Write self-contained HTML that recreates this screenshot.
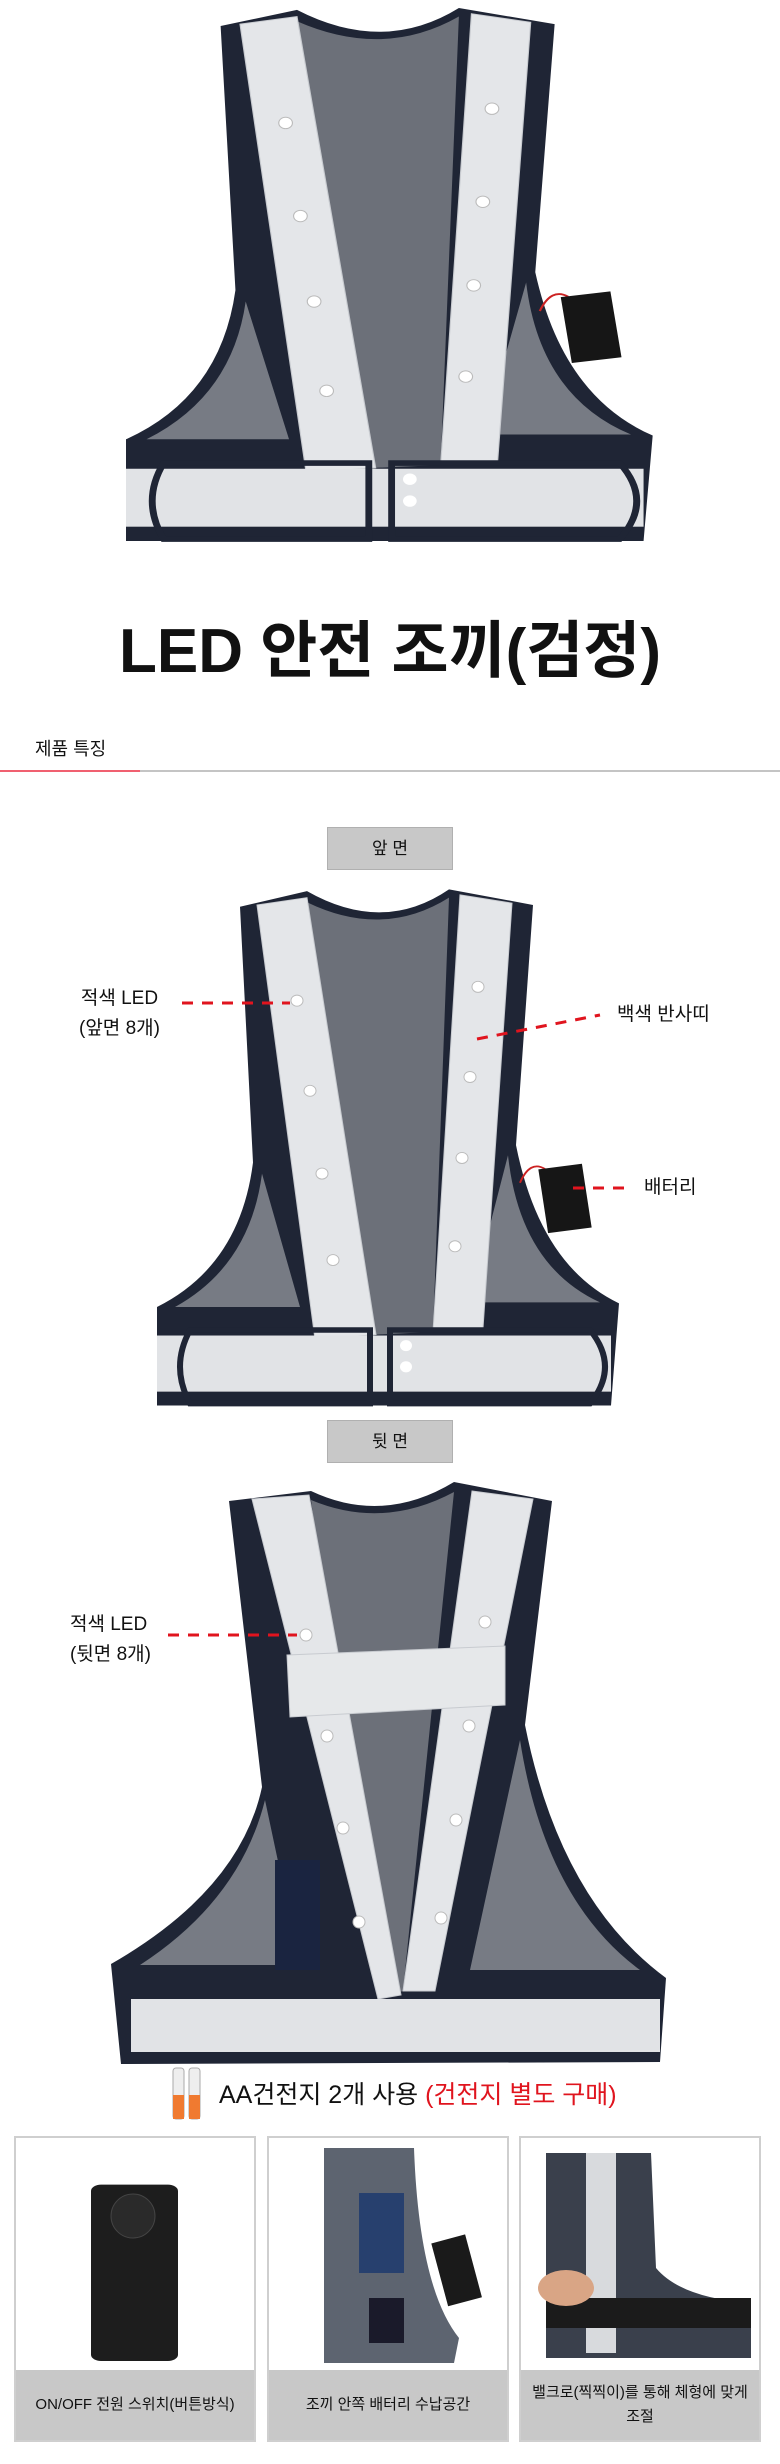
<!DOCTYPE html>
<html><head><meta charset="utf-8"><style>
body{margin:0;background:#fff;}
.wrap{position:relative;width:780px;height:2464px;overflow:hidden;font-family:"Liberation Sans","Noto Sans CJK KR",sans-serif;color:#111;}
.abs{position:absolute;}
.btn{position:absolute;left:327px;width:124px;height:41px;background:#c8c8c8;border:1px solid #b0b0b0;font-size:17px;line-height:41px;text-align:center;}
.lbl{position:absolute;font-size:19px;line-height:30px;}
.panel{position:absolute;top:2136px;width:242px;height:306px;border:2px solid #cfcfcf;box-sizing:border-box;background:#fff;}
.cap{position:absolute;left:0;right:0;bottom:0;height:70px;background:#c8c8c8;display:flex;align-items:center;justify-content:center;text-align:center;font-size:15px;line-height:24px;}
</style></head><body><div class="wrap">
<svg class="abs" style="left:0;top:0" width="780" height="2464">
<defs>
<g id="fv">
<path d="M240,910 L307,893 Q383,940 449,891 L533,908 L516,1169 Q540,1300 619,1341 L611,1452 L157,1452 L157,1345 Q240,1300 253,1188 Z" fill="#1f2535"/>
<path d="M307,905 Q383,945 449,900 L433,1372 L376,1375 Z" fill="#6c7079"/>
<path d="M262,1200 Q250,1300 175,1345 L300,1345 Z" fill="#777b84"/>
<path d="M508,1180 Q520,1300 600,1340 L470,1340 Z" fill="#777b84"/>
<path d="M257,908 L307,900 L376,1375 L315,1380 Z" fill="#e4e6e9" stroke="#c8cbd0"/>
<path d="M460,897 L512,906 L483,1368 L433,1372 Z" fill="#e4e6e9" stroke="#c8cbd0"/>
<rect x="157" y="1376" width="454" height="61" fill="#e1e3e6"/>
<path d="M190,1370 Q170,1410 190,1450 L370,1450 L370,1370 Z" fill="none" stroke="#1f2535" stroke-width="6"/>
<path d="M390,1370 L590,1370 Q620,1410 590,1450 L390,1450 Z" fill="none" stroke="#1f2535" stroke-width="6"/>
<circle cx="297" cy="1012" r="6" fill="#fff" stroke="#bbb"/><circle cx="310" cy="1110" r="6" fill="#fff" stroke="#bbb"/>
<circle cx="322" cy="1200" r="6" fill="#fff" stroke="#bbb"/><circle cx="333" cy="1294" r="6" fill="#fff" stroke="#bbb"/>
<circle cx="478" cy="997" r="6" fill="#fff" stroke="#bbb"/><circle cx="470" cy="1095" r="6" fill="#fff" stroke="#bbb"/>
<circle cx="462" cy="1183" r="6" fill="#fff" stroke="#bbb"/><circle cx="455" cy="1279" r="6" fill="#fff" stroke="#bbb"/>
<circle cx="406" cy="1387" r="6" fill="#fff"/><circle cx="406" cy="1410" r="6" fill="#fff"/>
<path d="M520,1210 Q530,1185 545,1195" stroke="#c22" fill="none" stroke-width="2"/>
<rect x="543" y="1192" width="44" height="70" fill="#161616" transform="rotate(-8 565 1227)"/>
</g>
</defs>
<use href="#fv" transform="matrix(1.14,0,0,0.95,-52.98,-838.45)"/>
<use href="#fv" transform="translate(0,870) scale(1,0.92) translate(0,-870)"/>
<!-- back vest -->
<path d="M229,1501 L311,1491 Q383,1525 454,1482 L552,1501 L525,1725 Q560,1900 666,1978 L660,2062 L121,2064 L111,1964 Q240,1890 262,1787 Z" fill="#1f2535"/>
<path d="M311,1500 Q383,1530 454,1492 L403,1991 L378,1999 Z" fill="#6c7079"/>
<path d="M265,1800 Q240,1900 140,1965 L300,1965 Z" fill="#777b84"/>
<path d="M520,1740 Q545,1900 640,1970 L470,1970 Z" fill="#777b84"/>
<rect x="275" y="1860" width="45" height="110" fill="#1a2440"/>
<path d="M252,1499 L309,1495 L401,1995 L378,1999 Z" fill="#e4e6e9" stroke="#c8cbd0"/>
<path d="M472,1491 L533,1499 L435,1991 L403,1991 Z" fill="#e4e6e9" stroke="#c8cbd0"/>
<path d="M287,1655 L505,1646 L505,1705 L290,1717 Z" fill="#e6e8ea" stroke="#c8cbd0"/>
<rect x="131" y="1999" width="529" height="53" fill="#e1e3e6"/>
<g fill="#fff" stroke="#bbb"><circle cx="306" cy="1635" r="6"/><circle cx="327" cy="1736" r="6"/><circle cx="343" cy="1828" r="6"/><circle cx="359" cy="1922" r="6"/>
<circle cx="485" cy="1622" r="6"/><circle cx="469" cy="1726" r="6"/><circle cx="456" cy="1820" r="6"/><circle cx="441" cy="1918" r="6"/></g>
<!-- dashes -->
<g stroke="#e0141e" stroke-width="3" stroke-dasharray="11 9" fill="none">
<line x1="182" y1="1003" x2="290" y2="1003"/>
<line x1="477" y1="1039" x2="600" y2="1015"/>
<line x1="573" y1="1188" x2="631" y2="1188"/>
<line x1="168" y1="1635" x2="297" y2="1635"/>
</g>
<line x1="0" y1="771" x2="780" y2="771" stroke="#c4c4c4" stroke-width="2"/>
<line x1="0" y1="771" x2="140" y2="771" stroke="#f06070" stroke-width="2"/>
<!-- batteries -->
<rect x="173" y="2068" width="11" height="51" rx="3" fill="#eee" stroke="#aaa"/><rect x="173" y="2095" width="11" height="24" fill="#f07a30"/>
<rect x="189" y="2068" width="11" height="51" rx="3" fill="#eee" stroke="#aaa"/><rect x="189" y="2095" width="11" height="24" fill="#f07a30"/>
</svg>
<div class="abs" style="left:0;width:780px;top:612px;text-align:center;font-size:62px;font-weight:bold;line-height:80px;">LED 안전 조끼(검정)</div>
<div class="abs" style="left:35px;top:735px;font-size:18px;">제품 특징</div>
<div class="btn" style="top:827px">앞 면</div>
<div class="btn" style="top:1420px">뒷 면</div>
<div class="lbl" style="left:79px;top:984px;text-align:center">적색 LED<br>(앞면 8개)</div>
<div class="lbl" style="left:617px;top:1000px">백색 반사띠</div>
<div class="lbl" style="left:644px;top:1173px">배터리</div>
<div class="lbl" style="left:70px;top:1610px">적색 LED<br>(뒷면 8개)</div>
<div class="abs" style="left:219px;top:2080px;font-size:25px;line-height:30px;">AA건전지 2개 사용 <span style="color:#e0141e">(건전지 별도 구매)</span></div>
<div class="panel" style="left:14px">
<svg class="abs" style="left:0;top:0" width="242" height="236"><rect x="75" y="38" width="87" height="280" rx="10" fill="#1d1d1d" transform="scale(1,0.63) translate(0,36)"/><circle cx="117" cy="78" r="22" fill="#2a2a2a" stroke="#444"/></svg>
<div class="cap">ON/OFF 전원 스위치(버튼방식)</div></div>
<div class="panel" style="left:267px">
<svg class="abs" style="left:0;top:0" width="242" height="236"><path d="M55,10 L145,10 Q150,150 190,200 L185,225 L55,225 Z" fill="#5d6470"/><rect x="90" y="55" width="45" height="80" fill="#27406e"/><rect x="170" y="100" width="35" height="65" fill="#1a1a1a" transform="rotate(-15 187 132)"/><rect x="100" y="160" width="35" height="45" fill="#1a1a2a"/></svg>
<div class="cap">조끼 안쪽 배터리 수납공간</div></div>
<div class="panel" style="left:519px">
<svg class="abs" style="left:0;top:0" width="242" height="236"><path d="M25,15 L130,15 L135,130 Q160,160 230,165 L230,220 L25,220 Z" fill="#3a404c"/><rect x="65" y="15" width="30" height="200" fill="#d8dadd"/><rect x="25" y="160" width="205" height="30" fill="#1b1b1b"/><ellipse cx="45" cy="150" rx="28" ry="18" fill="#d9a585"/></svg>
<div class="cap">밸크로(찍찍이)를 통해 체형에 맞게<br>조절</div></div>
</div></body></html>
